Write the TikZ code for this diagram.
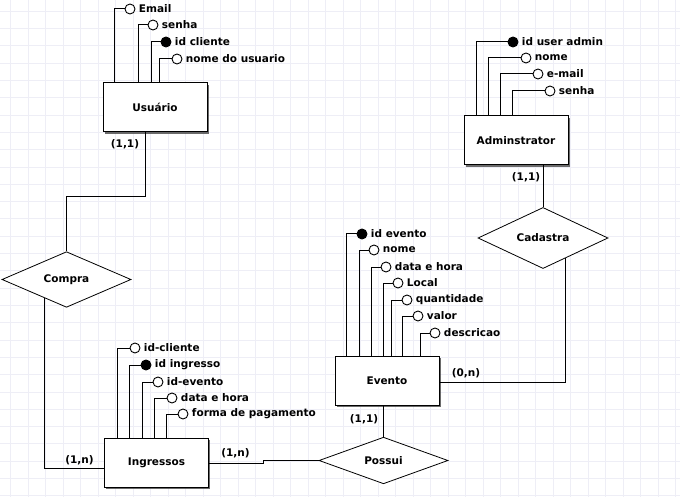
\documentclass[tikz,border=0pt]{standalone}
\usepackage{fontspec}
\setmainfont{DejaVu Sans}
\usepackage{tikz}
\usetikzlibrary{shapes.geometric, shadows, calc, positioning}
\definecolor{gridlav}{RGB}{238,238,246}
\definecolor{shadowgrey}{RGB}{70,70,70}

\begin{document}
\begin{tikzpicture}[x=1pt, y=-1pt, font=\bfseries\fontsize{10.5}{12}\selectfont]
        \tikzstyle{entity}=[draw, rectangle, fill=white, line width=1pt, minimum width=104pt, minimum height=49pt,
            drop shadow={shadow xshift=1.6pt, shadow yshift=-1.6pt, fill=shadowgrey, opacity=0.8}]
        \tikzstyle{relation}=[draw, diamond, fill=white, line width=0.8pt, minimum width=129pt, minimum height=43pt, inner sep=0pt]
        \tikzstyle{attr}=[circle, draw, fill=white, line width=0.9pt, minimum size=10pt, inner sep=0pt, label distance=-0.5pt]
        \tikzstyle{key}=[attr, fill=black]
        \tikzstyle{link}=[line width=1pt]
        \tikzstyle{gridline}=[gridlav, line width=0.6pt]
        \useasboundingbox (0,0) rectangle (680,497);
        % background grid
        \foreach \gx in {10.5,28,...,680} \draw[gridline] (\gx,0) -- (\gx,497);
        \foreach \gy in {11.2,28.5,...,497} \draw[gridline] (0,\gy) -- (680,\gy);
        % Usuario and its attributes
        \node (usuario)[entity] at (155,107.5) {Usuário};
        \node (uemail)[attr, label=right:Email] at (130,9) {};
        \node (usenha)[attr, label=right:senha] at (153,25) {};
        \node (uid)[key, label=right:id cliente] at (166,42) {};
        \node (unome)[attr, label=right:nome do usuario] at (177,59) {};
        \coordinate (uf1) at ([xshift=12pt]usuario.north west);
        \coordinate (uf2) at ([xshift=36pt]usuario.north west);
        \coordinate (uf3) at ([xshift=49pt]usuario.north west);
        \coordinate (uf4) at ([xshift=57pt]usuario.north west);
        \draw[link] (uemail.west) -| (uf1);
        \draw[link] (usenha.west) -| (uf2);
        \draw[link] (uid.west) -| (uf3);
        \draw[link] (unome.west) -| (uf4);
        % Adminstrator and its attributes
        \node (admin)[entity] at (516,140.5) {Adminstrator};
        \node (aid)[key, label=right:id user admin] at (513,42) {};
        \node (anome)[attr, label=right:nome] at (526,58) {};
        \node (aemail)[attr, label=right:e-mail] at (538,74) {};
        \node (asenha)[attr, label=right:senha] at (550,91) {};
        \coordinate (af1) at ([xshift=13pt]admin.north west);
        \coordinate (af2) at ([xshift=25pt]admin.north west);
        \coordinate (af3) at ([xshift=37pt]admin.north west);
        \coordinate (af4) at ([xshift=49pt]admin.north west);
        \draw[link] (aid.west) -| (af1);
        \draw[link] (anome.west) -| (af2);
        \draw[link] (aemail.west) -| (af3);
        \draw[link] (asenha.west) -| (af4);
        % Evento and its attributes
        \node (evento)[entity] at (387,380.5) {Evento};
        \node (eid)[key, label=right:id evento] at (362,234) {};
        \node (enome)[attr, label=right:nome] at (374,250) {};
        \node (edata)[attr, label=right:data e hora] at (386,267) {};
        \node (elocal)[attr, label=right:Local] at (398,283) {};
        \node (equant)[attr, label=right:quantidade] at (407,300) {};
        \node (evalor)[attr, label=right:valor] at (418,316) {};
        \node (edesc)[attr, label=right:descricao] at (435,333) {};
        \coordinate (ef1) at ([xshift=12pt]evento.north west);
        \coordinate (ef2) at ([xshift=25pt]evento.north west);
        \coordinate (ef3) at ([xshift=37pt]evento.north west);
        \coordinate (ef4) at ([xshift=49pt]evento.north west);
        \coordinate (ef5) at ([xshift=57pt]evento.north west);
        \coordinate (ef6) at ([xshift=68pt]evento.north west);
        \coordinate (ef7) at ([xshift=86pt]evento.north west);
        \draw[link] (eid.west) -| (ef1);
        \draw[link] (enome.west) -| (ef2);
        \draw[link] (edata.west) -| (ef3);
        \draw[link] (elocal.west) -| (ef4);
        \draw[link] (equant.west) -| (ef5);
        \draw[link] (evalor.west) -| (ef6);
        \draw[link] (edesc.west) -| (ef7);
        % Ingressos and its attributes
        \node (ingressos)[entity] at (156.5,463) {Ingressos};
        \node (icli)[attr, label=right:id-cliente] at (135,348) {};
        \node (iid)[key, label=right:id ingresso] at (146,365) {};
        \node (iev)[attr, label=right:id-evento] at (158,382) {};
        \node (idata)[attr, label=right:data e hora] at (172,398) {};
        \node (ipag)[attr, label=right:forma de pagamento] at (183,414) {};
        \coordinate (if1) at ([xshift=13pt]ingressos.north west);
        \coordinate (if2) at ([xshift=25pt]ingressos.north west);
        \coordinate (if3) at ([xshift=38pt]ingressos.north west);
        \coordinate (if4) at ([xshift=50pt]ingressos.north west);
        \coordinate (if5) at ([xshift=62pt]ingressos.north west);
        \draw[link] (icli.west) -| (if1);
        \draw[link] (iid.west) -| (if2);
        \draw[link] (iev.west) -| (if3);
        \draw[link] (idata.west) -| (if4);
        \draw[link] (ipag.west) -| (if5);
        % relationships
        \node (compra)[relation] at (66.5,279.5) {Compra};
        \node (possui)[relation] at (383.5,460.5) {Possui};
        \node (cadastra)[relation, minimum width=130pt, minimum height=42pt] at (543,238) {Cadastra};
        % connectors
        \draw[link] ([xshift=-10pt]usuario.south) -- ++(0,64) -| (compra.north);
        \coordinate (cbeam) at ($(compra.west)!0.667!(compra.south)$);
        \draw[link] (cbeam) |- ([yshift=-5pt]ingressos.west);
        \draw[link] (ingressos.east) -- ++(54,0) |- (possui.west);
        \draw[link] (possui.north) -- (possui.north |- evento.south);
        \coordinate (cdbeam) at ($(cadastra.south)!0.34!(cadastra.east)$);
        \draw[link] ([yshift=-1.5pt]evento.east) -| (cdbeam);
        \draw[link] (cadastra.north) -- (cadastra.north |- admin.south);
        % cardinalities
        \node (card1) at (125,144) {(1,1)};
        \node (card2) at (79.5,460) {(1,n)};
        \node (card3) at (235.5,453) {(1,n)};
        \node (card4) at (364,419) {(1,1)};
        \node (card5) at (466,373) {(0,n)};
        \node (card6) at (526,177) {(1,1)};
    \end{tikzpicture}
\end{document}
